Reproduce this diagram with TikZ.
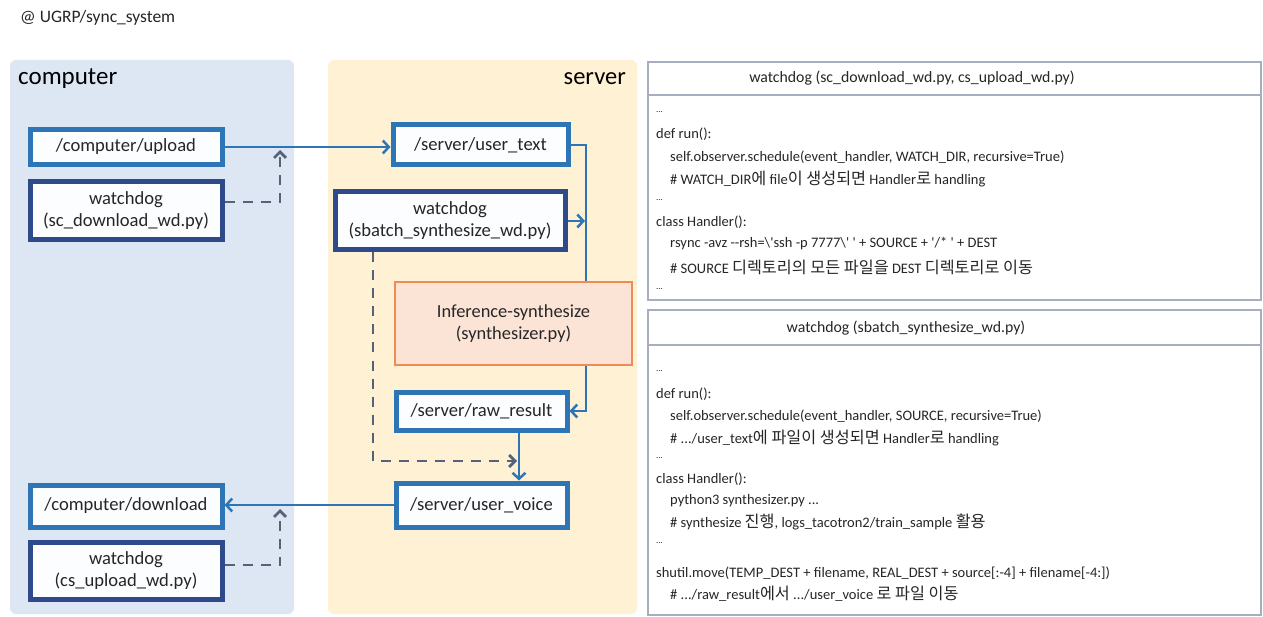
\documentclass[tikz,border=0pt]{standalone}
\usepackage{fontspec}
\setmainfont{Carlito}[Ligatures=TeXOff]
\newfontfamily\kr{Noto Sans CJK KR}[Scale=1.12]
\usetikzlibrary{arrows.meta}
\pgfdeclarelayer{panels}
\pgfdeclarelayer{wires}
\pgfsetlayers{panels,wires,main}

\definecolor{pcomp}{HTML}{DDE7F4}
\definecolor{pserv}{HTML}{FFF2D4}
\definecolor{fblue}{HTML}{2E75B6}
\definecolor{navy}{HTML}{2F4A8A}
\definecolor{dash}{HTML}{56627C}
\definecolor{orng}{HTML}{ED8C55}
\definecolor{peach}{HTML}{FBE4D6}
\definecolor{frame}{HTML}{A6AEBF}
\definecolor{ink}{HTML}{262626}

\tikzset{
  panel/.style={fill=#1, draw=none, rounded corners=6pt},
  dirbox/.style={draw=fblue, line width=5pt, fill=white!92!pcomp, text=ink,
    inner sep=2pt, font=\fontsize{18.6}{21}\selectfont},
  dogbox/.style={draw=navy, line width=5pt, fill=white!92!pcomp, text=ink,
    align=center, inner sep=2pt, font=\fontsize{18.6}{22}\selectfont},
  procbox/.style={draw=orng, line width=1.5pt, fill=peach, text=ink,
    align=center, font=\fontsize{18.4}{22}\selectfont},
  flow/.style={draw=fblue, line width=2.5pt,
    -{Straight Barb[length=6pt,width=13pt,line width=2.5pt]}},
  dflow/.style={draw=dash, line width=2.8pt, dash pattern=on 10pt off 8pt,
    -{Straight Barb[length=6pt,width=12pt,line width=2.8pt]}},
  codeframe/.style={draw=frame, line width=1.2pt, fill=white},
  codeline/.style={anchor=west, inner sep=0pt, text=ink,
    font=\fontsize{14.5}{17}\selectfont},
  codehead/.style={inner sep=0pt, text=ink, font=\fontsize{15.8}{18}\selectfont},
}

\begin{document}
\begin{tikzpicture}[x=1pt,y=-1pt]
\useasboundingbox (0,0) rectangle (1263,617);

% background panels
\begin{pgfonlayer}{panels}
  \fill[white] (0,0) rectangle (1263,617);
  \fill[panel=pcomp] (10,60) rectangle (294,614);
  \fill[panel=pserv] (328,60) rectangle (637,614);
\end{pgfonlayer}

% title
\node[anchor=west, inner sep=0pt, text=ink, font=\fontsize{17.5}{20}\selectfont]
  (title) at (20,18) {@ UGRP/sync\_system};

\node[anchor=west, inner sep=0pt, text=black, font=\fontsize{25}{28}\selectfont]
  (lcomp) at (18,79) {computer};
\node[anchor=east, inner sep=0pt, text=black, font=\fontsize{24.5}{28}\selectfont]
  (lserv) at (626,79) {server};

% computer side
\node[dirbox, minimum width=192pt, minimum height=35pt] (cu) at (126,147) {/computer/upload};
\node[dogbox, minimum width=192pt, minimum height=58pt] (wd1) at (126,211)
  {watchdog\\(sc\_download\_wd.py)};
\node[dirbox, minimum width=192pt, minimum height=42pt] (cd) at (126,506) {/computer/download};
\node[dogbox, minimum width=192pt, minimum height=57pt] (wd3) at (126,571)
  {watchdog\\(cs\_upload\_wd.py)};

% server side
\node[dirbox, minimum width=175pt, minimum height=40pt] (ut) at (480.5,145) {/server/user\_text};
\node[dogbox, minimum width=230pt, minimum height=58pt] (wd2) at (450,221)
  {watchdog\\(sbatch\_synthesize\_wd.py)};
\node[procbox, minimum width=237pt, minimum height=83pt] (inf) at (513.5,323.5)
  {Inference-synthesize\\(synthesizer.py)};
\node[dirbox, minimum width=171pt, minimum height=38pt] (rr) at (481.5,411) {/server/raw\_result};
\node[dirbox, minimum width=171pt, minimum height=44pt] (uv) at (481.5,505) {/server/user\_voice};

% guide coordinates for the connector routes
\coordinate (bus) at (586,0);
\coordinate (vl) at (519,0);
\coordinate (dd) at (373,0);
\coordinate (j1) at (280,150);
\coordinate (j2) at (280,509);
\coordinate (m) at (517,461);

\begin{pgfonlayer}{wires}
  \draw[flow] (cu.east) -- (cu.east -| ut.west);
  \draw[dflow] ([yshift=9pt]wd1.east) -| (j1);
  \draw[flow] (ut.east) -- (ut.east -| bus) -- (rr.east -| bus) -- (rr.east);
  \draw[flow, shorten >=1pt] (wd2.east) -- (wd2.east -| bus);
  \draw[dflow] (wd2.south -| dd) |- (m);
  \draw[flow] (rr.south -| vl) -- (uv.north -| vl);
  \draw[flow] (uv.west) -- (uv.west -| cd.east);
  \draw[dflow] ([yshift=6pt]wd3.east) -| (j2);
\end{pgfonlayer}

% code panel: watchdog for upload / download
\draw[codeframe] (648,62) rectangle (1261,300);
\draw[frame, line width=1.2pt] (648,95) -- (1261,95);
\node[codehead] (h1) at (912,78) {watchdog (sc\_download\_wd.py, cs\_upload\_wd.py)};
\node[codeline] (a1) at (656,112) {\fontsize{9}{10}\selectfont ...};
\node[codeline] (a2) at (656,134) {def run():};
\node[codeline] (a3) at (670,157) {self.observer.schedule(event\_handler, WATCH\_DIR, recursive=True)};
\node[codeline] (a4) at (670,179) {\# WATCH\_DIR{\kr 에} file{\kr 이 생성되면} Handler{\kr 로} handling};
\node[codeline] (a5) at (656,200) {\fontsize{9}{10}\selectfont ...};
\node[codeline] (a6) at (656,222) {class Handler():};
\node[codeline] (a7) at (670,244) {rsync -avz --rsh=\textbackslash'ssh -p 7777\textbackslash' ' + SOURCE + '/* ' + DEST};
\node[codeline] (a8) at (670,267) {\# SOURCE {\kr 디렉토리의 모든 파일을} DEST {\kr 디렉토리로 이동}};
\node[codeline] (a9) at (656,289) {\fontsize{9}{10}\selectfont ...};

% code panel: watchdog for synthesis
\draw[codeframe] (648,310) rectangle (1261,615);
\draw[frame, line width=1.2pt] (648,345) -- (1261,345);
\node[codehead] (h2) at (906,328) {watchdog (sbatch\_synthesize\_wd.py)};
\node[codeline] (b1) at (656,371) {\fontsize{9}{10}\selectfont ...};
\node[codeline] (b2) at (656,394) {def run():};
\node[codeline] (b3) at (670,416) {self.observer.schedule(event\_handler, SOURCE, recursive=True)};
\node[codeline] (b4) at (670,438) {\# .../user\_text{\kr 에 파일이 생성되면} Handler{\kr 로} handling};
\node[codeline] (b5) at (656,458) {\fontsize{9}{10}\selectfont ...};
\node[codeline] (b6) at (656,479) {class Handler():};
\node[codeline] (b7) at (670,501) {python3 synthesizer.py ...};
\node[codeline] (b8) at (670,522) {\# synthesize {\kr 진행}, logs\_tacotron2/train\_sample {\kr 활용}};
\node[codeline] (b9) at (656,543) {\fontsize{9}{10}\selectfont ...};
\node[codeline] (b10) at (656,573) {shutil.move(TEMP\_DEST + filename, REAL\_DEST + source[:-4] + filename[-4:])};
\node[codeline] (b11) at (670,594) {\# .../raw\_result{\kr 에서} .../user\_voice {\kr 로 파일 이동}};
\end{tikzpicture}
\end{document}
